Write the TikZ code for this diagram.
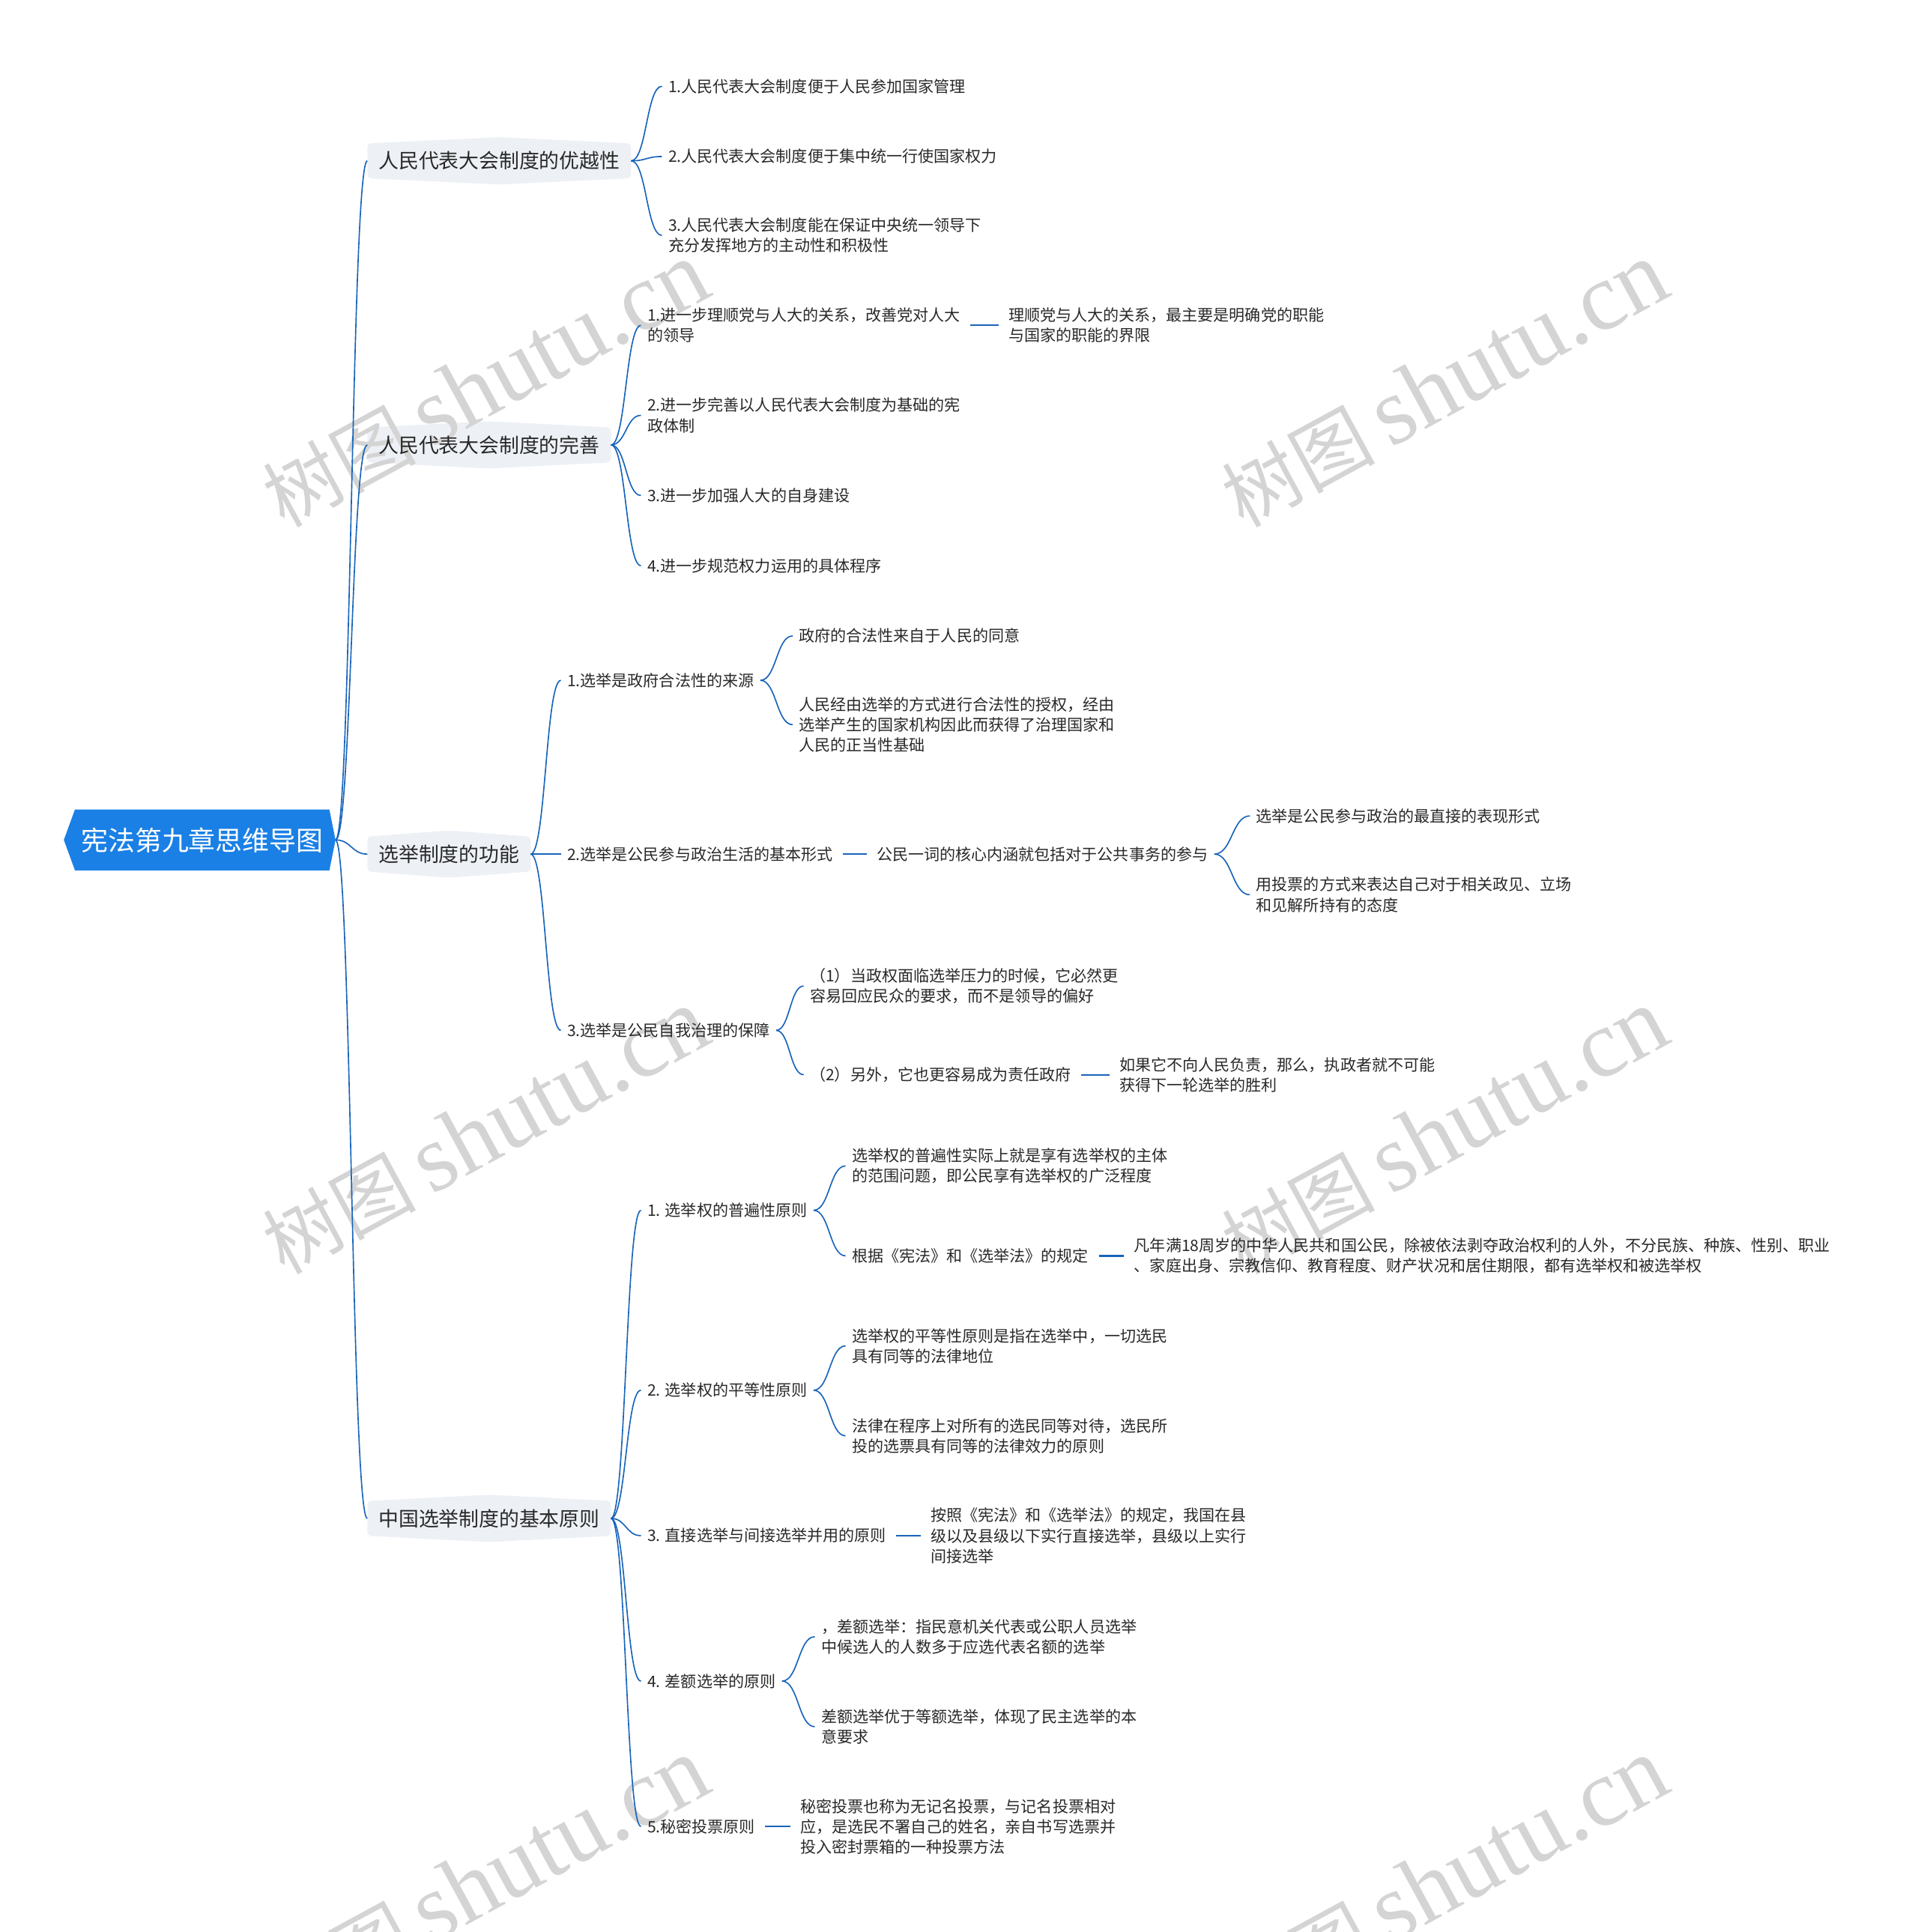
\documentclass[tikz,border=0pt]{standalone}
\usepackage{fontspec}
\setmainfont{Noto Sans CJK SC}
\newfontfamily\wmlat{Liberation Serif}
\usetikzlibrary{calc,backgrounds}
\definecolor{rootblue}{RGB}{26,128,229}
\definecolor{lnk}{RGB}{24,100,185}
\definecolor{txt}{RGB}{40,40,40}
\definecolor{lbg}{RGB}{237,241,246}
\definecolor{wmgray}{RGB}{212,212,212}
\tikzset{
 leaf/.style={anchor=west, inner xsep=5pt, inner ysep=0pt, align=left, text=txt, font=\fontsize{12.8}{16.5}\selectfont},
 lone/.style={anchor=west, inner xsep=9pt, inner ysep=0pt, minimum height=28pt, text=txt, font=\fontsize{16.3}{20}\selectfont},
 rootnode/.style={inner sep=0pt, minimum width=206pt, minimum height=49pt, text=white, font=\fontsize{21.8}{26}\selectfont},
 link/.style={draw=lnk, line width=1pt},
 hlink/.style={draw=lnk, line width=1.3pt, shorten <=3pt, shorten >=3pt},
 wm/.style={text=wmgray, rotate=28.5, inner sep=0pt},
}
\newcommand\brlink[2]{\draw[link] let \p1=(#1), \p2=(#2) in (\p1) .. controls (0.5*\x1+0.5*\x2,\y1) and (0.5*\x1+0.5*\x2,\y2) .. (\p2);}
\newcommand\lonebg[1]{\fill[lbg, rounded corners=3pt] (#1.south west) -- (#1.north west) -- ([yshift=5pt]#1.north) -- (#1.north east) -- (#1.south east) -- ([yshift=-5pt]#1.south) -- cycle;}
\begin{document}
\begin{tikzpicture}[x=1pt,y=1pt]
\useasboundingbox (0,0) rectangle (1556,-1567.6);
% watermarks
\begin{scope}
\clip (0,0) rectangle (1556,-1567.6);
\foreach \cx/\cy [count=\i] in {394/-312, 1172/-312, 394/-918, 1172/-918, 394/-1526, 1172/-1526}
  \node[wm] (wm\i) at (\cx,\cy) {{\fontsize{62}{66}\selectfont 树图}\hspace{12pt}{\wmlat\fontsize{78}{82}\selectfont shutu.cn}};
\end{scope}
% root
\node[rootnode] (R) at (164,-681.5) {宪法第九章思维导图};
\coordinate (Rout) at ($(R.east)+(5,0)$);
% level 1
\node[lone] (A) at (298,-130.5) {人民代表大会制度的优越性};
\node[lone] (B) at (298,-361) {人民代表大会制度的完善};
\node[lone] (C) at (298,-693) {选举制度的功能};
\node[lone] (D) at (298,-1232) {中国选举制度的基本原则};
% A children
\node[leaf] (A1) at (537,-70) {1.人民代表大会制度便于人民参加国家管理};
\node[leaf] (A2) at (537,-127) {2.人民代表大会制度便于集中统一行使国家权力};
\node[leaf] (A3) at (537,-191) {3.人民代表大会制度能在保证中央统一领导下\\充分发挥地方的主动性和积极性};
% B children
\node[leaf] (B1) at (520,-264) {1.进一步理顺党与人大的关系，改善党对人大\\的领导};
\node[leaf] (B1a) at (813,-264) {理顺党与人大的关系，最主要是明确党的职能\\与国家的职能的界限};
\node[leaf] (B2) at (520,-337) {2.进一步完善以人民代表大会制度为基础的宪\\政体制};
\node[leaf] (B3) at (520,-402) {3.进一步加强人大的自身建设};
\node[leaf] (B4) at (520,-459) {4.进一步规范权力运用的具体程序};
% C children
\node[leaf] (C1) at (455,-552) {1.选举是政府合法性的来源};
\node[leaf] (C1a) at (643,-516) {政府的合法性来自于人民的同意};
\node[leaf] (C1b) at (643,-588) {人民经由选举的方式进行合法性的授权，经由\\选举产生的国家机构因此而获得了治理国家和\\人民的正当性基础};
\node[leaf] (C2) at (455,-693) {2.选举是公民参与政治生活的基本形式};
\node[leaf] (C2a) at (706,-693) {公民一词的核心内涵就包括对于公共事务的参与};
\node[leaf] (C2a1) at (1014,-662) {选举是公民参与政治的最直接的表现形式};
\node[leaf] (C2a2) at (1014,-726) {用投票的方式来表达自己对于相关政见、立场\\和见解所持有的态度};
\node[leaf] (C3) at (455,-836) {3.选举是公民自我治理的保障};
\node[leaf] (C3a) at (652,-800) {（1）当政权面临选举压力的时候，它必然更\\容易回应民众的要求，而不是领导的偏好};
\node[leaf] (C3b) at (652,-872) {（2）另外，它也更容易成为责任政府};
\node[leaf] (C3b1) at (903,-872) {如果它不向人民负责，那么，执政者就不可能\\获得下一轮选举的胜利};
% D children
\node[leaf] (D1) at (520,-982) {1. 选举权的普遍性原则};
\node[leaf] (D1a) at (686,-946) {选举权的普遍性实际上就是享有选举权的主体\\的范围问题，即公民享有选举权的广泛程度};
\node[leaf] (D1b) at (686,-1019) {根据《宪法》和《选举法》的规定};
\node[leaf] (D1b1) at (915,-1019) {凡年满18周岁的中华人民共和国公民，除被依法剥夺政治权利的人外，不分民族、种族、性别、职业\\、家庭出身、宗教信仰、教育程度、财产状况和居住期限，都有选举权和被选举权};
\node[leaf] (D2) at (520,-1128) {2. 选举权的平等性原则};
\node[leaf] (D2a) at (686,-1092) {选举权的平等性原则是指在选举中，一切选民\\具有同等的法律地位};
\node[leaf] (D2b) at (686,-1165) {法律在程序上对所有的选民同等对待，选民所\\投的选票具有同等的法律效力的原则};
\node[leaf] (D3) at (520,-1246) {3. 直接选举与间接选举并用的原则};
\node[leaf] (D3a) at (750,-1246) {按照《宪法》和《选举法》的规定，我国在县\\级以及县级以下实行直接选举，县级以上实行\\间接选举};
\node[leaf] (D4) at (520,-1364) {4. 差额选举的原则};
\node[leaf] (D4a) at (661,-1328) {，差额选举：指民意机关代表或公职人员选举\\中候选人的人数多于应选代表名额的选举};
\node[leaf] (D4b) at (661,-1401) {差额选举优于等额选举，体现了民主选举的本\\意要求};
\node[leaf] (D5) at (520,-1482) {5.秘密投票原则};
\node[leaf] (D5a) at (644,-1482) {秘密投票也称为无记名投票，与记名投票相对\\应，是选民不署自己的姓名，亲自书写选票并\\投入密封票箱的一种投票方法};
% backgrounds
\begin{scope}[on background layer]
\fill[rootblue] ($(R.west)+(-9,0)$) -- (R.north west) -- (R.north east) -- (Rout) -- (R.south east) -- (R.south west) -- cycle;
\lonebg{A}\lonebg{B}\lonebg{C}\lonebg{D}
\end{scope}
% connectors root
\brlink{Rout}{A.west}
\brlink{Rout}{B.west}
\brlink{Rout}{C.west}
\brlink{Rout}{D.west}
% A
\brlink{A.east}{A1.west}
\brlink{A.east}{A2.west}
\brlink{A.east}{A3.west}
% B
\brlink{B.east}{B1.west}
\brlink{B.east}{B2.west}
\brlink{B.east}{B3.west}
\brlink{B.east}{B4.west}
\draw[hlink] (B1.east) -- (B1a.west);
% C
\brlink{C.east}{C1.west}
\brlink{C.east}{C2.west}
\brlink{C.east}{C3.west}
\brlink{C1.east}{C1a.west}
\brlink{C1.east}{C1b.west}
\draw[hlink] (C2.east) -- (C2a.west);
\brlink{C2a.east}{C2a1.west}
\brlink{C2a.east}{C2a2.west}
\brlink{C3.east}{C3a.west}
\brlink{C3.east}{C3b.west}
\draw[hlink] (C3b.east) -- (C3b1.west);
% D
\brlink{D.east}{D1.west}
\brlink{D.east}{D2.west}
\brlink{D.east}{D3.west}
\brlink{D.east}{D4.west}
\brlink{D.east}{D5.west}
\brlink{D1.east}{D1a.west}
\brlink{D1.east}{D1b.west}
\draw[hlink] (D1b.east) -- (D1b1.west);
\brlink{D2.east}{D2a.west}
\brlink{D2.east}{D2b.west}
\draw[hlink] (D3.east) -- (D3a.west);
\brlink{D4.east}{D4a.west}
\brlink{D4.east}{D4b.west}
\draw[hlink] (D5.east) -- (D5a.west);
\end{tikzpicture}
\end{document}
